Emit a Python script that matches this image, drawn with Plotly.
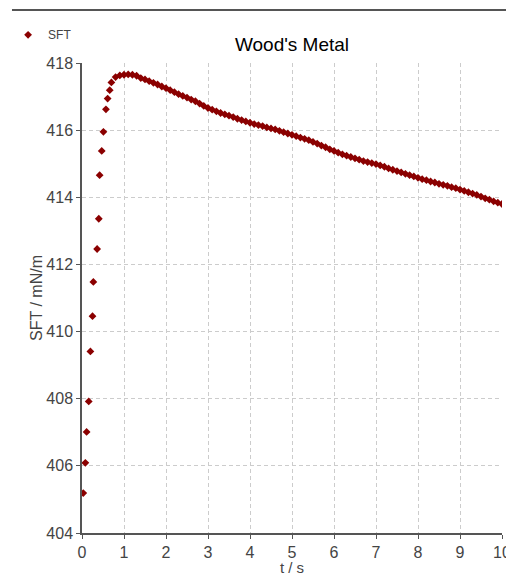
import plotly.graph_objects as go

# Early rising points
t_rise = [0.03, 0.08, 0.11, 0.16, 0.20, 0.25, 0.27, 0.36, 0.40, 0.42, 0.47, 0.51, 0.57, 0.61, 0.66]
sft_rise = [405.19, 406.09, 407.01, 407.92, 409.41, 410.46, 411.48, 412.46, 413.36, 414.66,
            415.38, 415.95, 416.62, 416.94, 417.19]

# Dense part, every 0.1 s from 0.7 s to 10.0 s
t_dense = [round(0.7 + 0.1 * i, 2) for i in range(94)]
sft_dense = [
    417.42, 417.58, 417.63, 417.65, 417.66, 417.65, 417.62, 417.55, 417.51, 417.46,
    417.41, 417.36, 417.30, 417.25, 417.19, 417.13, 417.07, 417.02, 416.97, 416.91,
    416.86, 416.79, 416.72, 416.66, 416.61, 416.56, 416.51, 416.47, 416.43, 416.39,
    416.34, 416.30, 416.26, 416.22, 416.18, 416.15, 416.12, 416.08, 416.05, 416.02,
    415.98, 415.94, 415.90, 415.86, 415.82, 415.78, 415.74, 415.70, 415.65, 415.60,
    415.54, 415.49, 415.43, 415.38, 415.33, 415.28, 415.24, 415.20, 415.16, 415.12,
    415.08, 415.05, 415.02, 414.99, 414.95, 414.91, 414.86, 414.82, 414.78, 414.74,
    414.70, 414.66, 414.62, 414.58, 414.54, 414.51, 414.47, 414.44, 414.40, 414.37,
    414.34, 414.30, 414.27, 414.23, 414.19, 414.15, 414.11, 414.07, 414.02, 413.97,
    413.93, 413.88, 413.84, 413.80,
]

x_ticks = list(range(0, 11))
y_ticks = [404, 406, 408, 410, 412, 414, 416, 418]

t_all = t_rise + t_dense
sft_all = sft_rise + sft_dense

FONT = "Liberation Sans, Arial, sans-serif"
AXIS_COLOR = "#555555"
TEXT_COLOR = "#444444"

fig = go.Figure()
fig.add_trace(go.Scatter(
    x=t_all, y=sft_all, mode="markers", name="SFT",
    marker=dict(symbol="diamond", size=6, color="#8B0000", line=dict(width=0)),
))

fig.update_layout(
    width=506, height=576,
    margin=dict(l=82, r=4, t=63, b=43, autoexpand=False),
    paper_bgcolor="white", plot_bgcolor="white",
    font=dict(family=FONT, color=TEXT_COLOR, size=16),
    title=dict(text="Wood's Metal", xref="paper", x=0.5, xanchor="center",
               yref="container", y=1 - 44 / 576, yanchor="middle",
               font=dict(family=FONT, size=19, color="#000000")),
    showlegend=True,
    legend=dict(x=-0.176, y=1.06, xanchor="left", yanchor="middle", orientation="v",
                font=dict(family=FONT, size=12, color=TEXT_COLOR),
                bgcolor="rgba(0,0,0,0)", borderwidth=0, itemwidth=30, tracegroupgap=0),
    shapes=[dict(type="line", xref="paper", yref="paper", x0=-0.1667, x1=1.01, y0=1.1128, y1=1.1128,
                 line=dict(color="#555555", width=2))],
)

fig.update_xaxes(
    range=[0, 10], tickvals=x_ticks, ticktext=[str(v) for v in x_ticks],
    showline=True, linecolor=AXIS_COLOR, linewidth=1.5,
    ticks="outside", ticklen=4, tickcolor=AXIS_COLOR,
    showgrid=True, gridcolor="#cccccc", griddash="4px,3px", gridwidth=1,
    zeroline=False, automargin=False, ticklabeloverflow="allow",
    title=dict(text="t / s", standoff=7, font=dict(size=15, color=TEXT_COLOR)),
    tickfont=dict(size=16, color=TEXT_COLOR),
)
fig.update_yaxes(
    range=[404, 418], tickvals=y_ticks, ticktext=[str(v) for v in y_ticks],
    showline=True, linecolor=AXIS_COLOR, linewidth=1.5,
    ticks="outside", ticklen=4, tickcolor=AXIS_COLOR,
    showgrid=True, gridcolor="#cccccc", griddash="4px,3px", gridwidth=1,
    zeroline=False, automargin=False,
    title=dict(text="SFT / mN/m", standoff=0, font=dict(size=16, color=TEXT_COLOR)),
    tickfont=dict(size=16, color=TEXT_COLOR),
)

fig.write_html(
    "out.html",
    config={"displayModeBar": False},
    post_script="document.body.style.margin='0px';document.body.style.overflow='hidden';",
)
